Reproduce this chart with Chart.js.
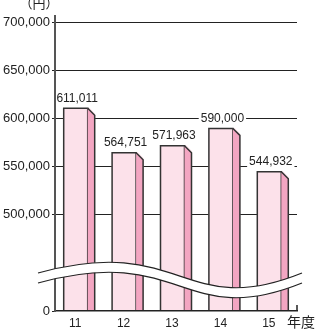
<!DOCTYPE html>
<html><head><meta charset="utf-8">
<script src="https://cdn.jsdelivr.net/npm/chart.js@4/dist/chart.umd.min.js"></script>
<style>html,body{margin:0;padding:0;background:#fff}#wrap{width:317px;height:330px;position:relative}</style>
</head><body><div id="wrap"><canvas id="c"></canvas></div>
<script>
const categories = ['11', '12', '13', '14', '15'];
const values = [611011, 564751, 571963, 590000, 544932];
const valueLabels = ['611,011', '564,751', '571,963', '590,000', '544,932'];
const yTickValues = [400000, 500000, 550000, 600000, 650000, 700000];
const yTickLabels = ['0', '500,000', '550,000', '600,000', '650,000', '700,000'];
const yUnitLabel = '（円）';
const xUnitLabel = '年度';

const FRONT = '#fce1ea';
const SIDE = '#f3a6c2';
const EDGE = '#333333';
const LATIN = '"Liberation Sans", Arial, sans-serif';
const CJK = '"Noto Sans CJK JP", sans-serif';

const decor = {
  id: 'decor',
  afterDatasetsDraw(chart) {
    const ctx = chart.ctx;
    const meta = chart.getDatasetMeta(0);
    ctx.save();
    meta.data.forEach((el, i) => {
      const p = el.getProps(['x', 'y', 'width', 'base'], true);
      const left = p.x - p.width / 2, right = p.x + p.width / 2;
      const depth = 7;
      const fr = right - depth;
      ctx.fillStyle = '#fff';
      ctx.beginPath();
      ctx.moveTo(fr + 0.8, p.y - 1.5);
      ctx.lineTo(right + 1.5, p.y - 1.5);
      ctx.lineTo(right + 1.5, p.y + depth - 0.5);
      ctx.closePath();
      ctx.fill();
      ctx.lineWidth = 1.5;
      ctx.strokeStyle = EDGE;
      ctx.fillStyle = FRONT;
      ctx.fillRect(left, p.y, fr - left, p.base - p.y);
      ctx.beginPath();
      ctx.moveTo(left, p.base);
      ctx.lineTo(left, p.y);
      ctx.lineTo(fr, p.y);
      ctx.lineTo(fr, p.base);
      ctx.stroke();
      ctx.fillStyle = SIDE;
      ctx.beginPath();
      ctx.moveTo(fr, p.y);
      ctx.lineTo(right, p.y + depth);
      ctx.lineTo(right, p.base);
      ctx.lineTo(fr, p.base);
      ctx.closePath();
      ctx.fill();
      ctx.beginPath();
      ctx.moveTo(fr, p.y);
      ctx.lineTo(right, p.y + depth);
      ctx.lineTo(right, p.base);
      ctx.stroke();
    });
    ctx.font = '12px ' + LATIN;
    ctx.textAlign = 'center';
    ctx.textBaseline = 'middle';
    meta.data.forEach((el, i) => {
      const p = el.getProps(['x', 'y'], true);
      const t = valueLabels[i];
      const w = ctx.measureText(t).width;
      const cx = p.x - 2;
      const cy = p.y - 10;
      ctx.fillStyle = '#fff';
      ctx.fillRect(cx - w / 2 - 2, cy - 6, w + 4, 12);
      ctx.fillStyle = '#222';
      ctx.fillText(t, cx, cy);
    });
    ctx.restore();
  },
  afterDraw(chart) {
    const ctx = chart.ctx;
    const a = chart.chartArea;
    ctx.save();
    ctx.strokeStyle = '#222';
    ctx.lineWidth = 1.5;
    ctx.beginPath();
    ctx.moveTo(a.right, a.bottom);
    ctx.lineTo(a.right, a.bottom - 6);
    ctx.stroke();
    const x0 = a.left - 17, x3 = a.right + 5;
    const yb = a.bottom - 38;
    const cx = (x0 + x3) / 2 + 13;
    const th = 10;
    const curve = (off) => [x0, yb + off, cx, yb - 40 + off, cx, yb + 48 + off, x3, yb + off];
    const u = curve(0), l = curve(th);
    ctx.fillStyle = '#fff';
    ctx.beginPath();
    ctx.moveTo(u[0], u[1]);
    ctx.bezierCurveTo(u[2], u[3], u[4], u[5], u[6], u[7]);
    ctx.lineTo(l[6], l[7]);
    ctx.bezierCurveTo(l[4], l[5], l[2], l[3], l[0], l[1]);
    ctx.closePath();
    ctx.fill();
    ctx.lineWidth = 1.2;
    ctx.strokeStyle = '#222';
    [u, l].forEach(c => {
      ctx.beginPath();
      ctx.moveTo(c[0], c[1]);
      ctx.bezierCurveTo(c[2], c[3], c[4], c[5], c[6], c[7]);
      ctx.stroke();
    });
    ctx.fillStyle = '#222';
    ctx.textBaseline = 'middle';
    ctx.textAlign = 'center';
    ctx.font = '13px ' + CJK;
    ctx.fillText(yUnitLabel, 39, 3);
    ctx.textAlign = 'left';
    ctx.font = '14px ' + CJK;
    ctx.fillText(xUnitLabel, a.right - 10, a.bottom + 11);
    ctx.restore();
  }
};

new Chart(document.getElementById('c'), {
  type: 'bar',
  data: {
    labels: categories,
    datasets: [{
      data: values,
      base: 400000,
      backgroundColor: FRONT,
      borderWidth: 0,
      barThickness: 31
    }]
  },
  options: {
    responsive: true,
    maintainAspectRatio: false,
    animation: false,
    events: [],
    layout: { padding: { top: 16, right: 20, left: 0, bottom: 0 } },
    plugins: { legend: { display: false }, tooltip: { enabled: false } },
    scales: {
      x: {
        grid: { display: false, drawTicks: false },
        border: { display: true, color: '#222', width: 1.5, z: 1 },
        ticks: { color: '#222', font: { size: 12, family: LATIN }, padding: 5, labelOffset: -4, maxRotation: 0 },
        afterFit(s) { s.height = 19; }
      },
      y: {
        min: 400000,
        max: 707000,
        afterBuildTicks(s) { s.ticks = yTickValues.map(v => ({ value: v })); },
        afterFit(s) { s.width = 55; },
        grid: {
          color: c => (c.tick && c.tick.value === 400000) ? 'rgba(0,0,0,0)' : '#222',
          tickColor: '#222',
          lineWidth: 1,
          tickLength: 3
        },
        border: { display: true, color: '#555', width: 2, z: 1 },
        ticks: {
          color: '#222',
          font: { size: 13, family: LATIN },
          padding: 2,
          callback: (v) => { const i = yTickValues.indexOf(v); return i >= 0 ? yTickLabels[i] : ''; }
        }
      }
    }
  },
  plugins: [decor]
});
</script>
</body></html>
